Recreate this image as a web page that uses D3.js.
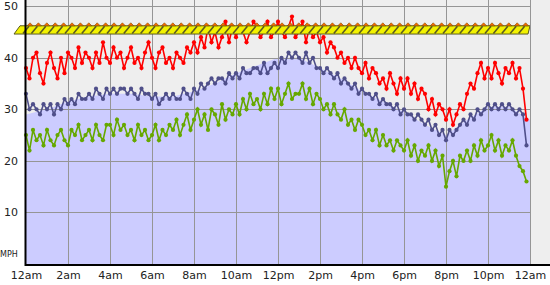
<!DOCTYPE html>
<html lang="en">
<head>
<meta charset="utf-8">
<script src="https://cdn.jsdelivr.net/npm/d3@7"></script>
<style>
  * { margin: 0; padding: 0; box-sizing: border-box; }
  body { background: #fff; width: 550px; height: 285px; overflow: hidden; font-family: "DejaVu Sans", sans-serif; }
  svg { display: block; }
</style>
</head>
<body>
<svg id="chart" width="550" height="285"></svg>
<script>
// hours of day for the tick labels
const tickHours = [0, 2, 4, 6, 8, 10, 12, 14, 16, 18, 20, 22, 24];
const tickLabels = ["12am", "2am", "4am", "6am", "8am", "10am", "12pm", "2pm", "4pm", "6pm", "8pm", "10pm", "12am"];
const yTicks = [10, 20, 30, 40, 50];

// 10 minute samples, 6 per hour
const gust = [
  38,36,40,41,37,35, 39,41,38,36,40,37, 41,40,38,42,39,41, 40,38,41,39,43,40,
  39,42,40,41,38,40, 42,39,40,38,41,43, 40,38,41,42,39,40, 38,41,40,39,42,41,
  43,41,44,42,46,43, 45,42,44,47,43,46, 44,46,45,43,45,47, 46,44,45,47,44,45,
  47,45,44,46,48,44, 45,47,43,46,44,45, 43,44,41,43,42,40, 41,39,40,38,40,38,
  37,39,36,38,37,35, 36,34,37,35,33,36, 34,36,33,35,32,34, 33,30,32,29,31,30,
  28,30,27,29,31,30, 33,35,34,37,39,36, 38,36,39,37,35,38, 37,39,36,38,34,28
];
const avg = [
  33,30,31,30,29,31, 30,31,29,31,30,32, 31,32,31,33,32,32, 33,32,34,33,32,34,
  33,34,33,34,34,33, 34,33,32,34,33,33, 32,33,31,32,33,32, 33,32,32,34,33,32,
  34,33,35,34,35,36, 35,36,36,35,37,36, 37,36,38,37,37,38, 38,37,39,37,38,39,
  38,40,39,41,40,41, 40,39,41,39,40,38, 38,37,38,37,36,37, 35,36,35,34,35,33,
  34,33,33,32,33,31, 32,31,31,30,31,29, 30,29,29,28,29,28, 27,28,26,27,25,26,
  24,26,25,26,27,28, 27,29,28,30,29,30, 31,30,31,30,31,30, 31,30,29,30,29,23
];
const lull = [
  25,22,26,24,25,23, 26,24,23,25,26,24, 23,26,25,27,24,25, 26,24,27,25,24,27,
  27,25,28,26,27,25, 26,24,27,25,26,24, 25,27,24,26,25,27, 26,28,25,27,29,26,
  28,30,27,29,26,30, 29,27,31,28,30,29, 31,29,32,30,33,31, 32,30,33,31,34,32,
  34,31,33,35,32,33, 33,35,32,34,31,33, 32,30,31,29,31,29, 28,30,27,28,26,28,
  27,25,26,24,26,23, 25,23,24,22,24,23, 22,24,21,23,20,22, 21,23,20,22,19,21,
  15,18,20,17,21,20, 22,20,23,21,24,22, 23,25,22,24,21,23, 22,24,21,19,18,16
];
// hourly average shown as the shaded area
const hourlyAvg = [29, 30, 31.5, 32.5, 33, 33, 32.5, 32.5, 33.5, 35, 37, 38.5, 40, 40, 38, 36, 33.5, 31.5, 29.5, 27, 25, 28, 30.5, 30.5, 28];
const bandRange = [44.6, 46.2];

const svg = d3.select("#chart");
const x = d3.scaleLinear().domain([0, 24]).range([26, 530]);
const y = d3.scaleLinear().domain([0, 51.2]).range([264, 0]);

// plot background
svg.append("rect").attr("x", x(0)).attr("y", 0).attr("width", 550 - x(0)).attr("height", y(0)).attr("fill", "#eeeeee");

// shaded area
svg.append("path")
  .datum(hourlyAvg)
  .attr("fill", "#ccccff")
  .attr("d", d3.area().x((d, i) => x(i)).y0(y(0)).y1(d => y(d)));

// grid
const grid = svg.append("g").attr("stroke", "#959595").attr("stroke-width", 1);
grid.selectAll(".v").data(tickHours.slice(1)).join("line")
  .attr("x1", d => Math.round(x(d)) + 0.5).attr("x2", d => Math.round(x(d)) + 0.5)
  .attr("y1", 0).attr("y2", y(0));
grid.selectAll(".h").data(yTicks).join("line")
  .attr("x1", x(0)).attr("x2", x(24))
  .attr("y1", d => Math.round(y(d)) + 0.5).attr("y2", d => Math.round(y(d)) + 0.5);

// series
const series = [
  { data: lull, color: "#66a800" },
  { data: avg, color: "#4f4f8a" },
  { data: gust, color: "#ff0000" }
];
const line = d3.line().x((d, i) => x(i / 6)).y(d => y(d));
series.forEach(s => {
  const g = svg.append("g");
  g.append("path").datum(s.data).attr("fill", "none").attr("stroke", s.color).attr("stroke-width", 1.6).attr("d", line);
  g.selectAll("circle").data(s.data).join("circle")
    .attr("cx", (d, i) => x(i / 6)).attr("cy", d => y(d)).attr("r", 2.1).attr("fill", s.color);
});

// yellow band, drawn over the series
const band = svg.append("g");
const segs = d3.range(0, 24, 0.4);
const bTop = y(bandRange[1]), bBot = y(bandRange[0]);
band.append("path")
  .attr("d", `M${x(0) - 12},${bBot} L${x(0) - 6},${bTop} L${x(24)},${bTop} L${x(24) - 2},${bBot} Z`)
  .attr("fill", "#f2f200").attr("stroke", "#5a5a20").attr("stroke-width", 1);
band.selectAll("line").data(segs).join("line")
  .attr("x1", d => x(d) - 3).attr("y1", bBot - 0.5)
  .attr("x2", d => x(d) + 3).attr("y2", bTop + 0.5)
  .attr("stroke", "#5a5a20").attr("stroke-width", 1.6);
band.selectAll("path.tip").data(segs).join("path")
  .attr("class", "tip")
  .attr("d", d => `M${x(d) + 1},${bTop} L${x(d) + 4},${bTop - 3} L${x(d) + 7},${bTop} Z`)
  .attr("fill", "#ff6a00").attr("stroke", "#7a5000").attr("stroke-width", 0.6);

// right margin cover
svg.append("rect").attr("x", x(24) + 0.5).attr("y", 0).attr("width", 20).attr("height", y(0)).attr("fill", "#eeeeee");
svg.append("line").attr("x1", x(24) + 0.5).attr("x2", x(24) + 0.5).attr("y1", 0).attr("y2", y(0)).attr("stroke", "#959595");

// axes
svg.append("line").attr("x1", x(0)).attr("x2", 550).attr("y1", 265).attr("y2", 265).attr("stroke", "#000").attr("stroke-width", 2);
svg.append("line").attr("x1", x(0) - 0.5).attr("x2", x(0) - 0.5).attr("y1", 0).attr("y2", 266).attr("stroke", "#000").attr("stroke-width", 2);

const xAxis = svg.append("g").attr("transform", "translate(0,266)")
  .call(d3.axisBottom(x).tickValues(tickHours).tickFormat((d, i) => tickLabels[i]).tickSize(0).tickPadding(5));
const yAxis = svg.append("g").attr("transform", `translate(${x(0) - 6},0)`)
  .call(d3.axisLeft(y).tickValues(yTicks).tickSize(0).tickPadding(2));
[xAxis, yAxis].forEach(a => {
  a.select(".domain").remove();
  a.selectAll("text").attr("font-family", "DejaVu Sans, sans-serif").attr("font-size", 11).attr("fill", "#222");
});

svg.append("text").attr("x", 0).attr("y", 257).attr("font-size", 8).attr("fill", "#222").text("MPH");
</script>
</body>
</html>
